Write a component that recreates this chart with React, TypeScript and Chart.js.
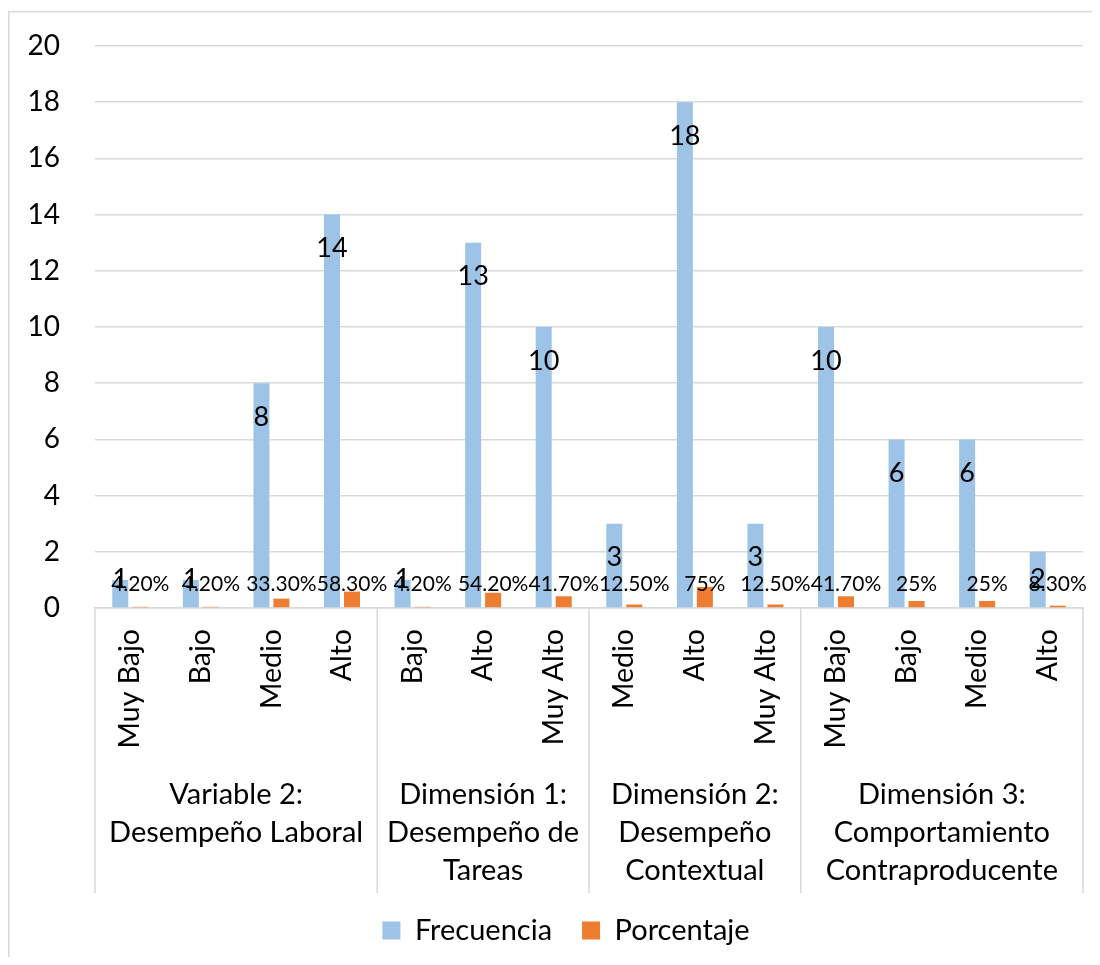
import React, { useEffect, useRef } from 'react';
import { Chart, registerables } from 'chart.js';

Chart.register(...registerables);

const categories = ['Muy Bajo', 'Bajo', 'Medio', 'Alto', 'Bajo', 'Alto', 'Muy Alto', 'Medio', 'Alto', 'Muy Alto', 'Muy Bajo', 'Bajo', 'Medio', 'Alto'];
const groupLabels = [
  ['Variable 2:', 'Desempeño Laboral'],
  ['Dimensión 1:', 'Desempeño de', 'Tareas'],
  ['Dimensión 2:', 'Desempeño', 'Contextual'],
  ['Dimensión 3:', 'Comportamiento', 'Contraproducente'],
];
const groupSizes = [4, 3, 3, 4];
const frecuencia = [1, 1, 8, 14, 1, 13, 10, 3, 18, 3, 10, 6, 6, 2];
const porcentaje = [0.042, 0.042, 0.333, 0.583, 0.042, 0.542, 0.417, 0.125, 0.75, 0.125, 0.417, 0.25, 0.25, 0.083];
const seriesNames = ['Frecuencia', 'Porcentaje'];
const yMin = 0;
const yMax = 20;
const yStep = 2;

const FONT = 'Lato';
const GRID = '#d9d9d9';

function fmtPct(v: number): string {
  const p = Math.round(v * 10000) / 100;
  return Number.isInteger(p) ? `${p}%` : `${p.toFixed(2)}%`;
}

const framePlugin = {
  id: 'frame',
  beforeDraw(chart: any) {
    const ctx = chart.ctx;
    ctx.save();
    ctx.strokeStyle = GRID;
    ctx.lineWidth = 1.5;
    ctx.beginPath();
    ctx.moveTo(0.75, chart.height);
    ctx.lineTo(0.75, 3.75);
    ctx.lineTo(chart.width, 3.75);
    ctx.stroke();
    ctx.restore();
  },
  afterLayout(chart: any) {
    const lg = chart.legend;
    if (lg) {
      lg.left += 20.5;
      lg.right += 20.5;
    }
  },
};

const axisPlugin = {
  id: 'multiAxis',
  afterDraw(chart: any) {
    const ctx = chart.ctx;
    const x = chart.scales.x;
    const area = chart.chartArea;
    const y0 = area.bottom;
    ctx.save();
    ctx.fillStyle = '#000';
    // category labels
    ctx.font = `28.5px ${FONT}`;
    categories.forEach((c, i) => {
      const px = x.getPixelForValue(i);
      ctx.save();
      ctx.translate(px, y0 + 21);
      ctx.rotate(-Math.PI / 2);
      ctx.textAlign = 'right';
      ctx.textBaseline = 'middle';
      ctx.fillText(c, 0, 0);
      ctx.restore();
    });
    // separators
    const edges: number[] = [area.left];
    let idx = 0;
    groupSizes.forEach((s) => {
      idx += s;
      edges.push(idx >= categories.length ? area.right : (x.getPixelForValue(idx - 1) + x.getPixelForValue(idx)) / 2);
    });
    ctx.strokeStyle = GRID;
    ctx.lineWidth = 1.5;
    edges.forEach((e) => {
      ctx.beginPath();
      ctx.moveTo(e, y0);
      ctx.lineTo(e, y0 + 285);
      ctx.stroke();
    });
    // group labels
    ctx.font = `29px ${FONT}`;
    ctx.textAlign = 'center';
    ctx.textBaseline = 'middle';
    groupLabels.forEach((lines, g) => {
      const cx = (edges[g] + edges[g + 1]) / 2;
      lines.forEach((ln, k) => {
        ctx.fillText(ln, cx, y0 + 187 + k * 38);
      });
    });
    ctx.restore();
  },
  afterDatasetsDraw(chart: any) {
    const ctx = chart.ctx;
    const y0 = chart.scales.y.getPixelForValue(0);
    ctx.save();
    ctx.fillStyle = '#000';
    ctx.textAlign = 'center';
    ctx.textBaseline = 'middle';
    ctx.font = `27px ${FONT}`;
    chart.getDatasetMeta(0).data.forEach((bar: any, i: number) => {
      const cy = Math.min(bar.y + 34, y0 - 29);
      ctx.fillText(String(frecuencia[i]), bar.x, cy);
    });
    ctx.font = `21px ${FONT}`;
    chart.getDatasetMeta(1).data.forEach((bar: any, i: number) => {
      ctx.fillText(fmtPct(porcentaje[i]), bar.x, y0 - 24);
    });
    ctx.restore();
  },
};

export default function App() {
  const ref = useRef<HTMLCanvasElement | null>(null);
  useEffect(() => {
    if (!ref.current) return;
    const chart = new Chart(ref.current, {
      type: 'bar',
      data: {
        labels: categories,
        datasets: [
          { label: seriesNames[0], data: frecuencia, backgroundColor: '#9DC3E6', categoryPercentage: 0.567, barPercentage: 0.8 },
          { label: seriesNames[1], data: porcentaje, backgroundColor: '#ED7D31', categoryPercentage: 0.567, barPercentage: 0.8 },
        ],
      },
      options: {
        responsive: false,
        animation: false,
        layout: { padding: { top: 38, right: 9, left: 0, bottom: 2 } },
        plugins: {
          legend: {
            position: 'bottom',
            labels: { font: { family: FONT, size: 29 }, color: '#000', boxWidth: 18, boxHeight: 18, padding: 30 },
          },
          tooltip: { enabled: false },
        },
        scales: {
          x: {
            grid: { display: false },
            border: { display: true, color: GRID, width: 1.5 },
            ticks: { display: false },
            afterFit: (s: any) => { s.height = 278; },
          },
          y: {
            min: yMin,
            max: yMax,
            ticks: { stepSize: yStep, font: { family: FONT, size: 28 }, color: '#000', padding: 0 },
            grid: { color: GRID, lineWidth: 1.5, drawTicks: true, tickLength: 35, tickColor: 'rgba(0,0,0,0)' },
            border: { display: false },
            afterFit: (s: any) => { s.width = 87; },
          },
        },
      },
      plugins: [framePlugin, axisPlugin],
    } as any);
    return () => chart.destroy();
  }, []);
  return <canvas ref={ref} width={1084} height={949} style={{ display: 'block' }} />;
}
